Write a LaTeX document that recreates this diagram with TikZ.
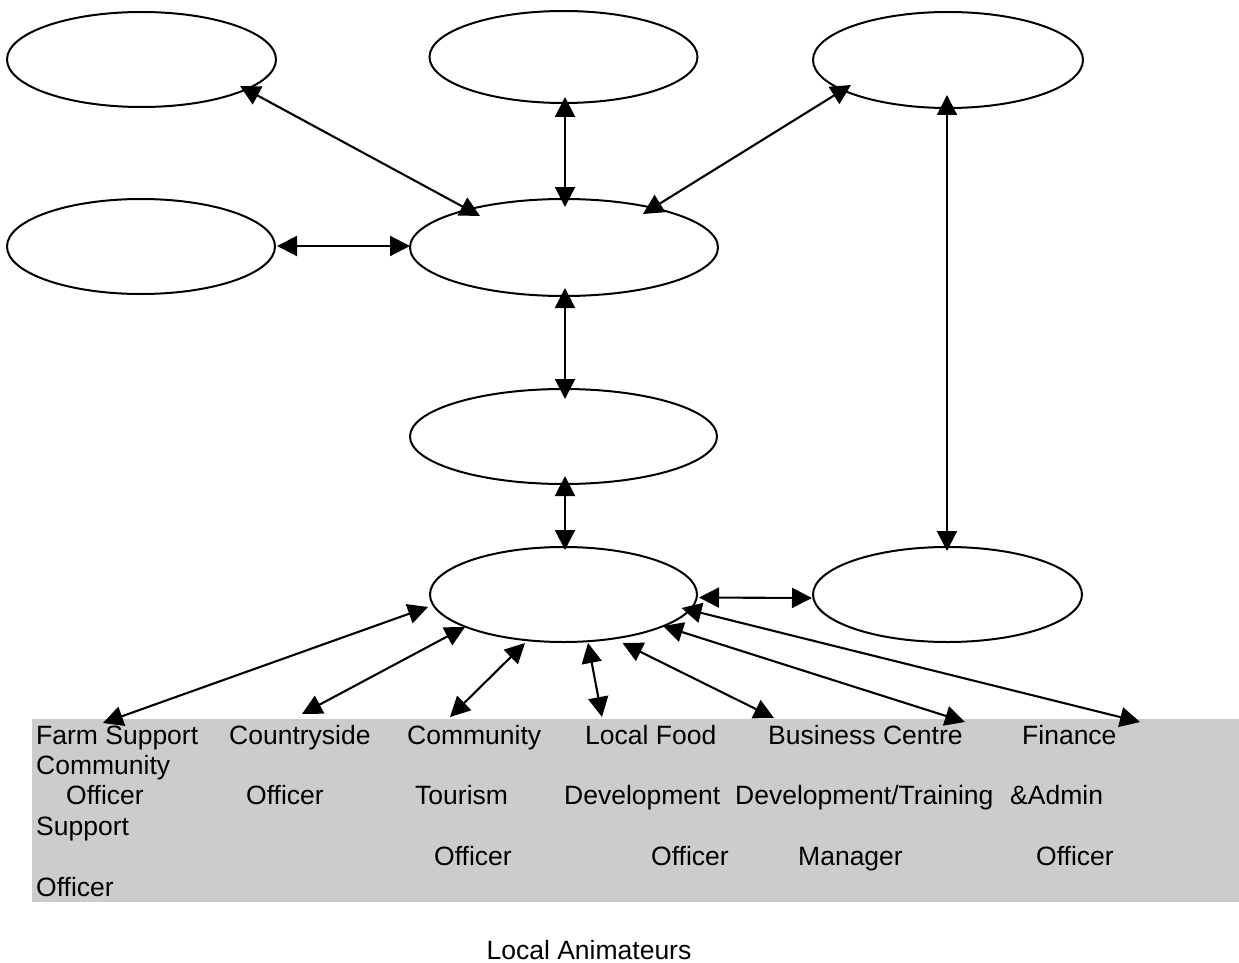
\documentclass[tikz,border=0pt]{standalone}
\usepackage{fontspec}
\setmainfont{Liberation Sans}
\usetikzlibrary{arrows.meta,calc,shapes.geometric}
\definecolor{panelgray}{HTML}{CCCCCC}
\begin{document}
\begin{tikzpicture}[x=1pt,y=-1pt,
  oval/.style={ellipse, draw, line width=2pt, inner sep=0pt},
  link/.style={line width=2.1pt,
    {Triangle[length=20pt,width=20pt]}-{Triangle[length=20pt,width=20pt]}},
  lbl/.style={anchor=base west, inner sep=0pt, font=\fontsize{26.5}{30}\selectfont}]
\useasboundingbox (0,0) rectangle (1239,963);

% staff panel
\fill[panelgray] (32,719) rectangle (1239,902);

% ovals
\node[oval, minimum width=269pt, minimum height=95pt] (e1) at (141.5,59.5) {};
\node[oval, minimum width=268pt, minimum height=92pt] (e2) at (563.5,57) {};
\node[oval, minimum width=270pt, minimum height=96pt] (e3) at (948,60) {};
\node[oval, minimum width=268pt, minimum height=95pt] (e4) at (141,246.5) {};
\node[oval, minimum width=308pt, minimum height=97pt] (e5) at (564,247.5) {};
\node[oval, minimum width=307pt, minimum height=95pt] (e6) at (563.5,436.5) {};
\node[oval, minimum width=267pt, minimum height=95pt] (e7) at (563.5,594.5) {};
\node[oval, minimum width=269pt, minimum height=95pt] (e8) at (947.5,594.5) {};

% staff titles
\node[lbl] (fa1) at (36,744.5) {Farm Support};
\node[lbl] (co1) at (229,744.5) {Countryside};
\node[lbl] (ct1) at (407,744.5) {Community};
\node[lbl] (lf1) at (585,744.5) {Local Food};
\node[lbl] (bc1) at (768,744.5) {Business Centre};
\node[lbl] (fi1) at (1022,744.5) {Finance};
\node[lbl] (cs1) at (36,774) {Community};
\node[lbl] (fa2) at (66,804.5) {Officer};
\node[lbl] (co2) at (246,804.5) {Officer};
\node[lbl] (ct2) at (415,804.5) {Tourism};
\node[lbl] (lf2) at (564,804.5) {Development};
\node[lbl] (bc2) at (735,804.5) {Development/Training};
\node[lbl] (fi2) at (1010,804.5) {\&Admin};
\node[lbl] (cs2) at (36,835) {Support};
\node[lbl] (ct3) at (434,865.5) {Officer};
\node[lbl] (lf3) at (651,865.5) {Officer};
\node[lbl] (bc3) at (798,865.5) {Manager};
\node[lbl] (fi3) at (1036,865.5) {Officer};
\node[lbl] (cs3) at (36,896) {Officer};

\node[anchor=base, inner sep=0pt, font=\fontsize{26.5}{30}\selectfont] (cap) at (589,959) {Local Animateurs};

% arrow ends on the panel
\coordinate (t1) at (103,723);
\coordinate (t2) at (302,714);
\coordinate (t3) at (450,717);
\coordinate (t4) at (602,717);
\coordinate (t5) at (774,718);
\coordinate (t6) at (965,722);
\coordinate (t7) at (1140,722);

% links between ovals
\draw[link] ($(e1)+(98.5,26.5)$) -- ($(e5)+(-84,-31.5)$);
\draw[link] ($(e2)+(1.5,40)$) -- ($(e5)+(1,-40.5)$);
\draw[link] ($(e3)+(-97,25)$) -- ($(e5)+(79,-33.5)$);
\draw[link] ($(e3)+(-1,35)$) -- ($(e8)+(-0.5,-43.5)$);
\draw[link] ($(e4)+(136,-0.5)$) -- ($(e5)+(-154,-1.5)$);
\draw[link] ($(e5)+(1,40.5)$) -- ($(e6)+(1.5,-37.5)$);
\draw[link] ($(e6)+(1.5,39.5)$) -- ($(e7)+(1.5,-44.5)$);
\draw[link] ($(e7)+(135.5,3)$) -- ($(e8)+(-135.5,3.5)$);

% links to the staff panel
\draw[link] ($(e7)+(-135.5,12.5)$) -- (t1);
\draw[link] ($(e7)+(-98.5,32.5)$) -- (t2);
\draw[link] ($(e7)+(-38.5,48.5)$) -- (t3);
\draw[link] ($(e7)+(24.5,48.5)$) -- (t4);
\draw[link] ($(e7)+(59,48.5)$) -- (t5);
\draw[link] ($(e7)+(99.5,31.5)$) -- (t6);
\draw[link] ($(e7)+(118,13.5)$) -- (t7);
\end{tikzpicture}
\end{document}
